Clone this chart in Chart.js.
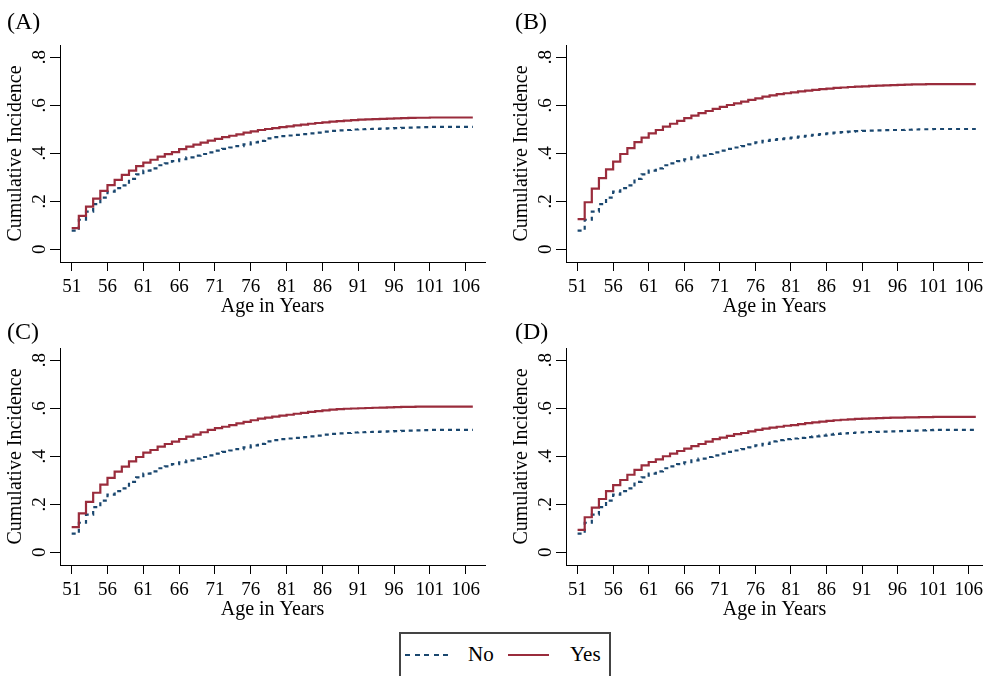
<!DOCTYPE html>
<html>
<head>
<meta charset="utf-8">
<script src="https://cdn.jsdelivr.net/npm/chart.js@4.4.0/dist/chart.umd.min.js"></script>
<style>
    body {
        margin: 0;
        background: #fff;
        width: 988px;
        height: 676px;
        overflow: hidden;
        position: relative;
        font-family: "Liberation Serif", serif;
        color: #000;
    }
    canvas { position: absolute; }
    .tag { position: absolute; font-size: 24px; line-height: 24px; }
    .leg-text { position: absolute; font-size: 21px; line-height: 21px; top: 644px; }
    #legend-box {
        position: absolute; left: 399px; top: 632px; width: 212px; height: 60px;
        border: 2px solid #444; box-sizing: border-box;
    }
    #sw-no {
        position: absolute; left: 405px; top: 654px; width: 43px; height: 2px;
        background: repeating-linear-gradient(to right, #1a476f 0 5px, transparent 5px 9.5px);
    }
    #sw-yes { position: absolute; left: 508px; top: 654px; width: 41px; height: 2px; background: #9a2c3c; }
</style>
</head>
<body>
<canvas id="panelA" width="494" height="320" style="left:0;top:0"></canvas>
<canvas id="panelB" width="494" height="320" style="left:494px;top:0"></canvas>
<canvas id="panelC" width="494" height="313" style="left:0;top:310px"></canvas>
<canvas id="panelD" width="494" height="313" style="left:494px;top:310px"></canvas>

<div class="tag" style="left:7px;top:9px">(A)</div>
<div class="tag" style="left:515px;top:9px">(B)</div>
<div class="tag" style="left:7px;top:319px">(C)</div>
<div class="tag" style="left:515px;top:319px">(D)</div>

<div id="legend-box"></div>
<div id="sw-no"></div>
<div class="leg-text" style="left:468px">No</div>
<div id="sw-yes"></div>
<div class="leg-text" style="left:570px">Yes</div>

<script>
// ages 51..107, one value per year (step curves)
const ages = [
    51, 52, 53, 54, 55, 56, 57, 58, 59, 60,
    61, 62, 63, 64, 65, 66, 67, 68, 69, 70,
    71, 72, 73, 74, 75, 76, 77, 78, 79, 80,
    81, 82, 83, 84, 85, 86, 87, 88, 89, 90,
    91, 92, 93, 94, 95, 96, 97, 98, 99, 100,
    101, 102, 103, 104, 105, 106, 107,
];
const xTickAges = [51, 56, 61, 66, 71, 76, 81, 86, 91, 96, 101, 106];
const yTickValues = [0, 0.2, 0.4, 0.6, 0.8];

// "No" curve (same in A, C, D)
const noCommon = [
    0.078, 0.123, 0.157, 0.188, 0.215, 0.240, 0.255, 0.266, 0.293, 0.312,
    0.328, 0.337, 0.350, 0.358, 0.367, 0.375, 0.383, 0.390, 0.397, 0.404,
    0.411, 0.418, 0.424, 0.430, 0.437, 0.445, 0.452, 0.462, 0.467, 0.471,
    0.474, 0.477, 0.480, 0.483, 0.486, 0.490, 0.493, 0.495, 0.497, 0.499,
    0.500, 0.501, 0.502, 0.503, 0.504, 0.505, 0.506, 0.507, 0.508, 0.509,
    0.510, 0.510, 0.510, 0.510, 0.510, 0.510, 0.510,
];
const noB = [
    0.078, 0.123, 0.157, 0.188, 0.215, 0.240, 0.255, 0.266, 0.293, 0.312,
    0.328, 0.337, 0.350, 0.358, 0.367, 0.375, 0.383, 0.390, 0.397, 0.404,
    0.411, 0.418, 0.424, 0.430, 0.437, 0.445, 0.452, 0.456, 0.459, 0.462,
    0.465, 0.469, 0.473, 0.477, 0.480, 0.483, 0.486, 0.488, 0.490, 0.492,
    0.493, 0.494, 0.495, 0.496, 0.497, 0.497, 0.498, 0.499, 0.500, 0.500,
    0.501, 0.501, 0.501, 0.501, 0.501, 0.501, 0.501,
];
const yesA = [
    0.088, 0.139, 0.178, 0.211, 0.243, 0.267, 0.289, 0.310, 0.328, 0.346,
    0.361, 0.373, 0.386, 0.396, 0.405, 0.417, 0.428, 0.436, 0.444, 0.453,
    0.460, 0.467, 0.473, 0.479, 0.486, 0.491, 0.497, 0.501, 0.505, 0.509,
    0.512, 0.516, 0.519, 0.523, 0.526, 0.529, 0.532, 0.534, 0.536, 0.538,
    0.540, 0.541, 0.542, 0.543, 0.544, 0.545, 0.546, 0.547, 0.548, 0.548,
    0.549, 0.549, 0.549, 0.549, 0.549, 0.549, 0.549,
];
const yesB = [
    0.126, 0.196, 0.253, 0.296, 0.333, 0.365, 0.397, 0.421, 0.446, 0.465,
    0.483, 0.497, 0.511, 0.523, 0.535, 0.546, 0.557, 0.567, 0.576, 0.585,
    0.593, 0.601, 0.608, 0.615, 0.622, 0.629, 0.636, 0.641, 0.646, 0.650,
    0.654, 0.658, 0.661, 0.664, 0.667, 0.669, 0.672, 0.674, 0.676, 0.678,
    0.679, 0.681, 0.682, 0.683, 0.684, 0.685, 0.686, 0.687, 0.687, 0.688,
    0.688, 0.688, 0.688, 0.688, 0.688, 0.688, 0.688,
];
const yesC = [
    0.105, 0.162, 0.210, 0.248, 0.282, 0.310, 0.336, 0.357, 0.379, 0.397,
    0.415, 0.426, 0.440, 0.451, 0.461, 0.472, 0.482, 0.490, 0.500, 0.510,
    0.517, 0.523, 0.530, 0.537, 0.543, 0.550, 0.557, 0.561, 0.565, 0.569,
    0.573, 0.577, 0.581, 0.585, 0.588, 0.591, 0.594, 0.596, 0.598, 0.599,
    0.600, 0.601, 0.602, 0.603, 0.604, 0.605, 0.606, 0.606, 0.607, 0.607,
    0.607, 0.607, 0.607, 0.607, 0.607, 0.607, 0.607,
];
const yesD = [
    0.093, 0.146, 0.186, 0.222, 0.255, 0.280, 0.301, 0.323, 0.343, 0.362,
    0.376, 0.387, 0.400, 0.411, 0.422, 0.432, 0.442, 0.451, 0.461, 0.471,
    0.478, 0.485, 0.492, 0.497, 0.504, 0.510, 0.515, 0.519, 0.523, 0.527,
    0.530, 0.534, 0.538, 0.541, 0.544, 0.547, 0.550, 0.552, 0.554, 0.556,
    0.557, 0.558, 0.559, 0.560, 0.561, 0.561, 0.562, 0.562, 0.563, 0.563,
    0.564, 0.564, 0.564, 0.564, 0.564, 0.564, 0.564,
];

const RED = "#9a2c3c";
const NAVY = "#1a476f";
const SERIF = "Liberation Serif";

const toPoints = (values) => ages.map((a, i) => ({ x: a, y: values[i] }));

function dibujarPanel(id, yes, no, pad, xMax) {
    const ctx = document.getElementById(id).getContext("2d");
    return new Chart(ctx, {
        type: "line",
        data: {
            datasets: [
                {
                    label: "Yes",
                    data: toPoints(yes),
                    borderColor: RED,
                    borderWidth: 2.2,
                    stepped: true,
                    pointRadius: 0,
                    order: 0,
                },
                {
                    label: "No",
                    data: toPoints(no),
                    borderColor: NAVY,
                    borderWidth: 2.2,
                    borderDash: [4, 4],
                    stepped: true,
                    pointRadius: 0,
                    order: 1,
                },
            ],
        },
        options: {
            responsive: false,
            animation: false,
            events: [],
            layout: { padding: pad },
            plugins: {
                legend: { display: false },
                tooltip: { enabled: false },
            },
            scales: {
                x: {
                    type: "linear",
                    min: 49.37,
                    max: xMax,
                    afterBuildTicks: (s) => {
                        s.ticks = xTickAges.map((v) => ({ value: v }));
                    },
                    afterFit: (s) => {
                        s.height = 58;
                    },
                    grid: { drawOnChartArea: false, tickLength: 9, color: "#000" },
                    border: { color: "#000", width: 1 },
                    ticks: {
                        color: "#000",
                        padding: 5,
                        maxRotation: 0,
                        autoSkip: false,
                        font: { family: SERIF, size: 19 },
                    },
                    title: {
                        display: true,
                        text: "Age in Years",
                        color: "#000",
                        font: { family: SERIF, size: 20 },
                        padding: { top: 0, bottom: 1 },
                    },
                },
                y: {
                    type: "linear",
                    min: -0.053,
                    max: 0.851,
                    afterBuildTicks: (s) => {
                        s.ticks = yTickValues.map((v) => ({ value: v }));
                    },
                    afterFit: (s) => {
                        s.width = 60;
                    },
                    grid: { drawOnChartArea: false, tickLength: 10, color: "#000" },
                    border: { color: "#000", width: 1 },
                    ticks: {
                        color: "#000",
                        minRotation: 90,
                        maxRotation: 90,
                        crossAlign: "center",
                        padding: 3,
                        font: { family: SERIF, size: 19 },
                        callback: (v) => (v === 0 ? "0" : String(v).replace(/^0/, "")),
                    },
                    title: {
                        display: true,
                        text: "Cumulative Incidence",
                        color: "#000",
                        font: { family: SERIF, size: 20 },
                        padding: { top: 4, bottom: 0 },
                    },
                },
            },
        },
    });
}

dibujarPanel("panelA", yesA, noCommon, { left: 0, right: 9, top: 45, bottom: 0 }, 108.7);
dibujarPanel("panelB", yesB, noB, { left: 12, right: 1, top: 45, bottom: 0 }, 108.0);
dibujarPanel("panelC", yesC, noCommon, { left: 0, right: 9, top: 38, bottom: 0 }, 108.7);
dibujarPanel("panelD", yesD, noCommon, { left: 12, right: 1, top: 38, bottom: 0 }, 108.0);
</script>
</body>
</html>
